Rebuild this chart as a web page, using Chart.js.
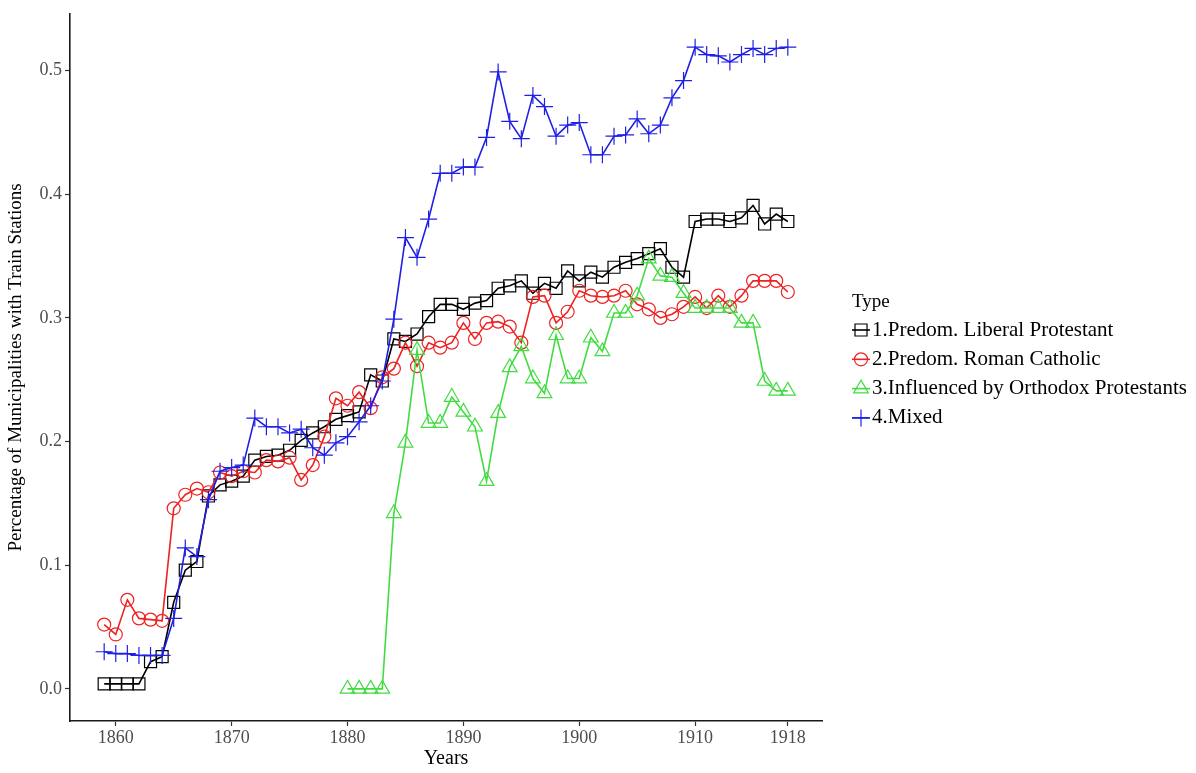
<!DOCTYPE html>
<html>
<head>
<meta charset="utf-8">
<title>Municipalities with Train Stations</title>
<script src="https://cdn.jsdelivr.net/npm/chart.js@4.4.1/dist/chart.umd.min.js"></script>
<style>
  html, body { margin: 0; padding: 0; background: #fff; }
  #wrap { width: 1196px; height: 773px; }
</style>
</head>
<body>
<div id="wrap"><canvas id="chart" width="1196" height="773"></canvas></div>
<script>
// Years on the x axis
const years = [
  1859, 1860, 1861, 1862, 1863, 1864, 1865, 1866, 1867, 1868,
  1869, 1870, 1871, 1872, 1873, 1874, 1875, 1876, 1877, 1878,
  1879, 1880, 1881, 1882, 1883, 1884, 1885, 1886, 1887, 1888,
  1889, 1890, 1891, 1892, 1893, 1894, 1895, 1896, 1897, 1898,
  1899, 1900, 1901, 1902, 1903, 1904, 1905, 1906, 1907, 1908,
  1909, 1910, 1911, 1912, 1913, 1914, 1915, 1916, 1917, 1918
];

// 1.Predom. Liberal Protestant
const liberalProtestant = [
  0.004, 0.004, 0.004, 0.004, 0.022, 0.026, 0.070, 0.096, 0.103, 0.156,
  0.165, 0.168, 0.172, 0.185, 0.188, 0.189, 0.193, 0.201, 0.207, 0.212,
  0.218, 0.221, 0.224, 0.254, 0.249, 0.283, 0.281, 0.287, 0.301, 0.311,
  0.311, 0.307, 0.312, 0.314, 0.324, 0.326, 0.330, 0.320, 0.328, 0.324,
  0.338, 0.330, 0.337, 0.333, 0.341, 0.345, 0.348, 0.352, 0.356, 0.341,
  0.333, 0.378, 0.380, 0.380, 0.378, 0.381, 0.391, 0.376, 0.384, 0.378
];

// 2.Predom. Roman Catholic
const romanCatholic = [
  0.052, 0.044, 0.072, 0.057, 0.056, 0.055, 0.146, 0.157, 0.162, 0.159,
  0.175, 0.172, 0.176, 0.175, 0.185, 0.184, 0.187, 0.169, 0.181, 0.204,
  0.235, 0.229, 0.240, 0.227, 0.252, 0.259, 0.280, 0.261, 0.280, 0.276,
  0.280, 0.296, 0.283, 0.296, 0.297, 0.293, 0.280, 0.317, 0.318, 0.296,
  0.305, 0.322, 0.318, 0.317, 0.318, 0.322, 0.311, 0.307, 0.300, 0.303,
  0.309, 0.317, 0.308, 0.318, 0.309, 0.318, 0.330, 0.330, 0.330, 0.321
];

// 3.Influenced by Orthodox Protestants (no data before 1880)
const orthodoxProtestant = [
  null, null, null, null, null, null, null, null, null, null,
  null, null, null, null, null, null, null, null, null, null,
  null, 0.000, 0.000, 0.000, 0.000, 0.142, 0.199, 0.274, 0.215, 0.215,
  0.236, 0.224, 0.212, 0.168, 0.223, 0.260, 0.277, 0.251, 0.239, 0.286,
  0.251, 0.251, 0.284, 0.273, 0.304, 0.304, 0.318, 0.348, 0.334, 0.333,
  0.320, 0.308, 0.308, 0.308, 0.308, 0.296, 0.296, 0.249, 0.241, 0.241
];

// 4.Mixed
const mixed = [
  0.030, 0.0285, 0.0285, 0.027, 0.027, 0.027, 0.057, 0.114, 0.107, 0.153,
  0.176, 0.179, 0.181, 0.219, 0.212, 0.212, 0.207, 0.210, 0.195, 0.189,
  0.199, 0.204, 0.216, 0.229, 0.249, 0.299, 0.365, 0.349, 0.380, 0.417,
  0.417, 0.422, 0.422, 0.446, 0.499, 0.459, 0.445, 0.480, 0.471, 0.447,
  0.456, 0.458, 0.432, 0.432, 0.447, 0.448, 0.461, 0.449, 0.456, 0.478,
  0.492, 0.519, 0.513, 0.512, 0.507, 0.513, 0.518, 0.513, 0.518, 0.519
];

const seriesLabels = [
  '1.Predom. Liberal Protestant',
  '2.Predom. Roman Catholic',
  '3.Influenced by Orthodox Protestants',
  '4.Mixed'
];
const xTicks = [1860, 1870, 1880, 1890, 1900, 1910, 1918];
const yTicks = [0.0, 0.1, 0.2, 0.3, 0.4, 0.5];
const legendTitle = 'Type';

const serif = '"Liberation Serif", "Times New Roman", serif';

// pair each year with its value
function toPoints(values) {
  return years.map(function(year, i) {
    return { x: year, y: values[i] };
  });
}

function makeSeries(label, values, color, style, radius, order) {
  return {
    label: label,
    data: toPoints(values),
    borderColor: color,
    borderWidth: 1.6,
    pointStyle: style,
    pointRadius: radius,
    pointHoverRadius: radius,
    pointBorderColor: color,
    pointBackgroundColor: 'rgba(0,0,0,0)',
    pointBorderWidth: 1.2,
    tension: 0,
    spanGaps: false,
    order: order
  };
}

// Draw the "Type" legend on the right, ggplot style (line + marker key)
const typeLegend = {
  id: 'typeLegend',
  afterDraw(chart) {
    const ctx = chart.ctx;
    const x0 = 852;
    const keyMid = 861;
    const textX = 872;
    ctx.save();
    ctx.textBaseline = 'middle';
    ctx.textAlign = 'left';
    ctx.fillStyle = '#000';
    ctx.font = '19px ' + serif;
    ctx.fillText(legendTitle, x0, 302);
    ctx.font = '21px ' + serif;
    chart.data.datasets.forEach(function(ds, i) {
      const y = 330 + i * 29.3;
      ctx.strokeStyle = ds.borderColor;
      ctx.lineWidth = ds.borderWidth;
      ctx.beginPath();
      ctx.moveTo(x0, y);
      ctx.lineTo(870, y);
      ctx.stroke();
      ctx.strokeStyle = ds.pointBorderColor;
      ctx.fillStyle = 'rgba(0,0,0,0)';
      ctx.lineWidth = ds.pointBorderWidth;
      Chart.helpers.drawPoint(ctx, {
        pointStyle: ds.pointStyle,
        radius: ds.pointRadius,
        borderWidth: ds.pointBorderWidth,
        rotation: 0
      }, keyMid, y);
      ctx.fillStyle = '#000';
      ctx.fillText(ds.label, textX, y);
    });
    ctx.restore();
  }
};

const ctx = document.getElementById('chart').getContext('2d');
new Chart(ctx, {
  type: 'line',
  data: {
    datasets: [
      makeSeries(seriesLabels[0], liberalProtestant, '#000000', 'rect', 8.5, 3),
      makeSeries(seriesLabels[1], romanCatholic, '#ee2222', 'circle', 6.5, 2),
      makeSeries(seriesLabels[2], orthodoxProtestant, '#42dc42', 'triangle', 8.5, 1),
      makeSeries(seriesLabels[3], mixed, '#1f1fe6', 'cross', 8.5, 0)
    ]
  },
  options: {
    responsive: false,
    animation: false,
    devicePixelRatio: 1,
    layout: {
      padding: { left: 0, right: 374, top: 7, bottom: 0 }
    },
    plugins: {
      legend: { display: false },
      tooltip: { enabled: false }
    },
    scales: {
      x: {
        type: 'linear',
        min: 1856.05,
        max: 1920.95,
        afterBuildTicks: function(axis) {
          axis.ticks = xTicks.map(function(v) { return { value: v }; });
        },
        afterFit: function(scale) {
          scale.height = 52;
        },
        grid: {
          drawOnChartArea: false,
          drawTicks: true,
          tickLength: 5,
          tickColor: '#333333',
          tickWidth: 1.2
        },
        border: { display: true, color: '#1a1a1a', width: 1.6 },
        ticks: {
          autoSkip: false,
          maxRotation: 0,
          padding: 1,
          color: '#4d4d4d',
          font: { family: serif, size: 18 },
          callback: function(v) { return String(v); }
        },
        title: {
          display: true,
          text: 'Years',
          color: '#000',
          padding: { top: 0, bottom: 2 },
          font: { family: serif, size: 20 }
        }
      },
      y: {
        type: 'linear',
        min: -0.026,
        max: 0.546,
        afterBuildTicks: function(axis) {
          axis.ticks = yTicks.map(function(v) { return { value: v }; });
        },
        afterFit: function(scale) {
          scale.width = 70;
        },
        grid: {
          drawOnChartArea: false,
          drawTicks: true,
          tickLength: 5,
          tickColor: '#333333',
          tickWidth: 1.2
        },
        border: { display: true, color: '#1a1a1a', width: 1.6 },
        ticks: {
          padding: 3,
          color: '#4d4d4d',
          font: { family: serif, size: 18 },
          callback: function(v) { return Number(v).toFixed(1); }
        },
        title: {
          display: true,
          text: 'Percentage of Municipalities with Train Stations',
          color: '#000',
          padding: { top: 5, bottom: 0 },
          font: { family: serif, size: 19 }
        }
      }
    }
  },
  plugins: [typeLegend]
});
</script>
</body>
</html>
